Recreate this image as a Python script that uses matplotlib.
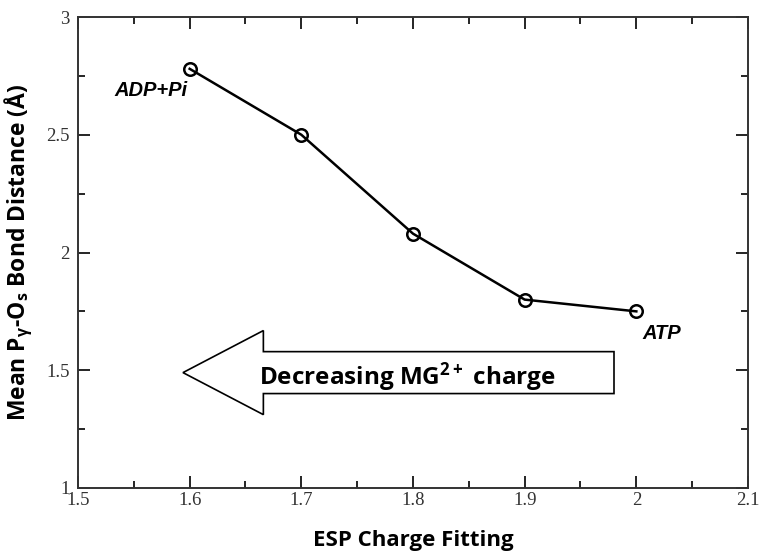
import matplotlib
matplotlib.use("Agg")
import matplotlib.pyplot as plt
from matplotlib.patches import FancyArrow
from matplotlib.ticker import MultipleLocator

# Data
esp_fit = [1.6, 1.7, 1.8, 1.9, 2.0]
mean_dist = [2.78, 2.50, 2.08, 1.80, 1.75]
xticks = [1.5, 1.6, 1.7, 1.8, 1.9, 2.0, 2.1]
xticklabels = ["1.5", "1.6", "1.7", "1.8", "1.9", "2", "2.1"]
yticks = [1.0, 1.5, 2.0, 2.5, 3.0]
yticklabels = ["1", "1.5", "2", "2.5", "3"]

LABEL_FONT = 'Open Sans'
plt.rcParams['mathtext.fontset'] = 'custom'
plt.rcParams['mathtext.rm'] = 'Open Sans:bold'
plt.rcParams['mathtext.it'] = 'Open Sans:bold'
plt.rcParams['mathtext.bf'] = 'Open Sans:bold'

fig = plt.figure(figsize=(7.63, 5.53), dpi=100)
ax = fig.add_axes([78/763, 65/553, 670/763, 471/553])

ax.plot(esp_fit, mean_dist, color='black', lw=1.8, marker='o', ms=9,
        mfc='none', mec='black', mew=1.8, zorder=3)

ax.set_xlim(1.5, 2.1)
ax.set_ylim(1.0, 3.0)
ax.set_xticks(xticks)
ax.set_xticklabels(xticklabels)
ax.set_yticks(yticks)
ax.set_yticklabels(yticklabels)
ax.xaxis.set_minor_locator(MultipleLocator(0.05))
ax.yaxis.set_minor_locator(MultipleLocator(0.25))
ax.tick_params(which='major', direction='in', top=True, right=True, length=8.5, width=1.2)
ax.tick_params(which='minor', direction='in', top=True, right=True, length=5, width=1.2)
for lab in ax.get_xticklabels() + ax.get_yticklabels():
    lab.set_family('Liberation Serif')
    lab.set_fontsize(13.5)
    lab.set_color('#333333')
ax.tick_params(axis='x', pad=3)
ax.tick_params(axis='y', pad=6)
for s in ax.spines.values():
    s.set_linewidth(1.4)
    s.set_color('#333333')

ax.set_xlabel("ESP Charge Fitting", family=LABEL_FONT, weight='bold', fontsize=16, labelpad=15)
ax.set_ylabel(r"Mean P$_\gamma$-O$_\mathrm{s}$ Bond Distance (Å)", family=LABEL_FONT,
              weight='bold', fontsize=16.5, labelpad=8)

ax.text(1.565, 2.69, "ADP+Pi", family='Liberation Sans', weight='bold', style='italic',
        fontsize=14.5, ha='center', va='center')
ax.text(2.023, 1.654, "ATP", family='Liberation Sans', weight='bold', style='italic',
        fontsize=14.5, ha='center', va='center')

arrow = FancyArrow(1.980, 1.49, 1.594 - 1.980, 0.0, width=0.178, head_width=0.357,
                   head_length=0.072, length_includes_head=True,
                   facecolor='white', edgecolor='black', lw=1.2, zorder=2)
ax.add_patch(arrow)
ax.text(1.795, 1.47, "Decreasing MG$^{2+}$ charge", family=LABEL_FONT, weight='bold',
        fontsize=17.5, ha='center', va='center', zorder=4)

fig.savefig("out.png", dpi=100)
